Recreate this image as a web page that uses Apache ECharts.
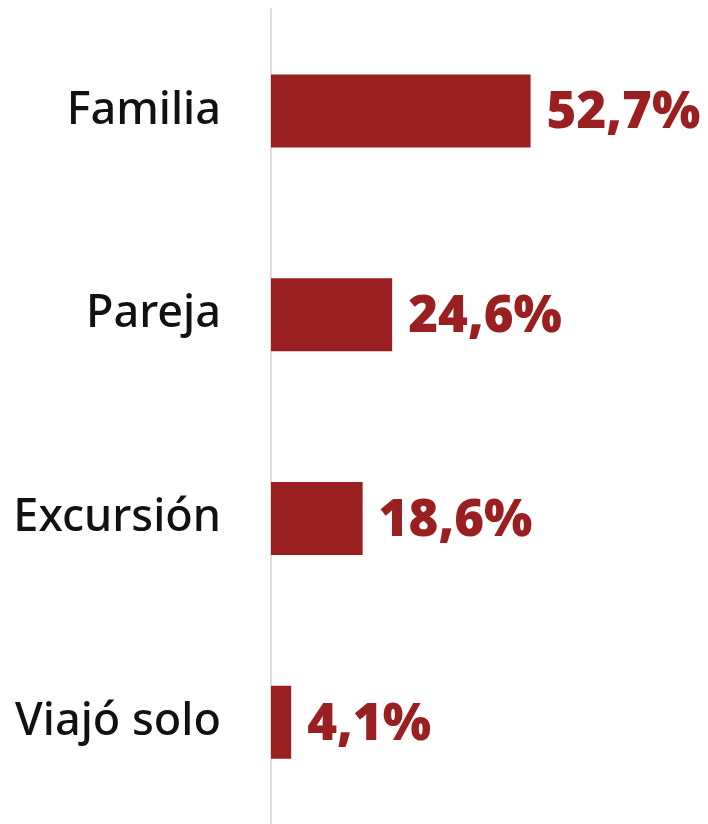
<!DOCTYPE html>
<html>
<head>
<meta charset="utf-8">
<style>
html,body{margin:0;padding:0;background:#fff;}
#chart{width:708px;height:824px;}
</style>
<script src="https://cdn.jsdelivr.net/npm/echarts@6/dist/echarts.min.js"></script>
</head>
<body>
<div id="chart"></div>
<script>
const categories = ["Familia", "Pareja", "Excursión", "Viajó solo"];
const values = [52.7, 24.6, 18.6, 4.1];
const valueLabels = ["52,7%", "24,6%", "18,6%", "4,1%"];

const chart = echarts.init(document.getElementById('chart'), null, {renderer: 'canvas'});
chart.setOption({
  animation: false,
  backgroundColor: '#ffffff',
  grid: {left: 271, top: 9, width: 394, height: 818, containLabel: false},
  xAxis: {
    type: 'value', min: 0, max: 80,
    show: false
  },
  yAxis: {
    type: 'category',
    data: categories,
    inverse: true,
    axisLine: {show: true, lineStyle: {color: '#dddddd', width: 2}},
    axisTick: {show: false},
    axisLabel: {
      color: '#111111', fontSize: 45, fontFamily: 'Noto Sans', fontWeight: 500,
      margin: 50
    }
  },
  series: [{
    type: 'bar',
    data: values,
    barWidth: 73,
    itemStyle: {color: '#9a1f20'},
    label: {
      show: true, position: 'right', distance: 16,
      formatter: p => valueLabels[p.dataIndex],
      color: '#9a1f20', fontSize: 51, fontWeight: 900, fontFamily: 'Noto Sans',
      offset: [0, 3]
    }
  }]
});
</script>
</body>
</html>
